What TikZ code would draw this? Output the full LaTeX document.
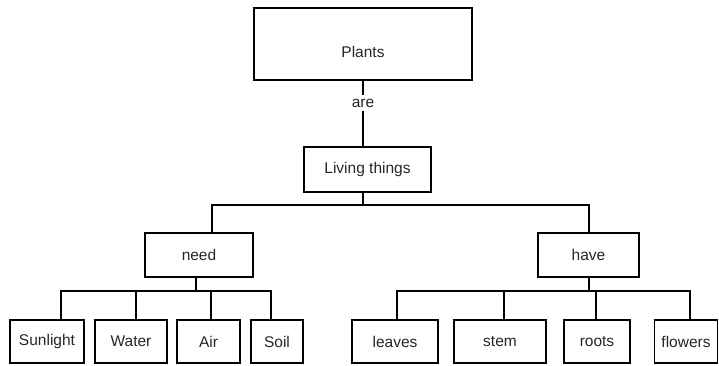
\documentclass[tikz,border=0pt]{standalone}
\usepackage{fontspec}
\setmainfont{Liberation Sans}
\begin{document}
\begin{tikzpicture}[x=1pt,y=-1pt,
  every node/.style={font=\fontsize{15.5}{17}\selectfont, text=black!85},
  box/.style={draw, line width=1.5pt, inner sep=0pt, align=center},
  wire/.style={line width=1.5pt}]
\useasboundingbox (0,0) rectangle (719,365);
% top
\node[box, minimum width=218pt, minimum height=72pt] (plants) at (363,44) {\raisebox{-13pt}[0pt][0pt]{Plants}};
\node[inner sep=4pt] (are) at (363,103) {are};
\node[box, minimum width=127pt, minimum height=45pt] (living) at (367.5,169.5) {Living things};
\draw[wire] (plants.south) -- (are.north);
\draw[wire] (are.south) -- (living.north -| are.south);
% second level
\node[box, minimum width=108pt, minimum height=44pt] (need) at (199,255) {need};
\node[box, minimum width=101pt, minimum height=44pt] (have) at (588.5,255) {have};
\coordinate (split) at (363,205);
\draw[wire] (living.south -| split) -- (split);
\draw[wire] ([xshift=13pt]need.north) |- (split);
\draw[wire] ([xshift=0.5pt]have.north) |- (split);
% leaves left
\node[box, minimum width=74pt, minimum height=43pt] (sun) at (47,341.5) {Sunlight};
\node[box, minimum width=72pt, minimum height=43pt] (water) at (131,341.5) {Water};
\node[box, minimum width=63pt, minimum height=43pt] (air) at (208.5,341.5) {Air};
\node[box, minimum width=52pt, minimum height=43pt] (soil) at (277,341.5) {Soil};
\coordinate (bn) at (196,291);
\draw[wire] ([xshift=-3pt]need.south) -- (bn);
\draw[wire] ([xshift=14pt]sun.north) |- (bn);
\draw[wire] ([xshift=5pt]water.north) |- (bn);
\draw[wire] ([xshift=2.5pt]air.north) |- (bn);
\draw[wire] ([xshift=-6pt]soil.north) |- (bn);
% leaves right
\node[box, minimum width=86pt, minimum height=43pt] (leaves) at (395,341.5) {leaves};
\node[box, minimum width=92pt, minimum height=43pt] (stem) at (500,341.5) {stem};
\node[box, minimum width=66pt, minimum height=43pt] (roots) at (597,341.5) {roots};
\node[box, minimum width=63pt, minimum height=43pt] (flowers) at (686,341.5) {flowers};
\coordinate (bh) at (589,291);
\draw[wire] (have.south -| bh) -- (bh);
\draw[wire] ([xshift=2pt]leaves.north) |- (bh);
\draw[wire] ([xshift=4pt]stem.north) |- (bh);
\draw[wire] ([xshift=-1pt]roots.north) |- (bh);
\draw[wire] ([xshift=4pt]flowers.north) |- (bh);
\end{tikzpicture}
\end{document}
